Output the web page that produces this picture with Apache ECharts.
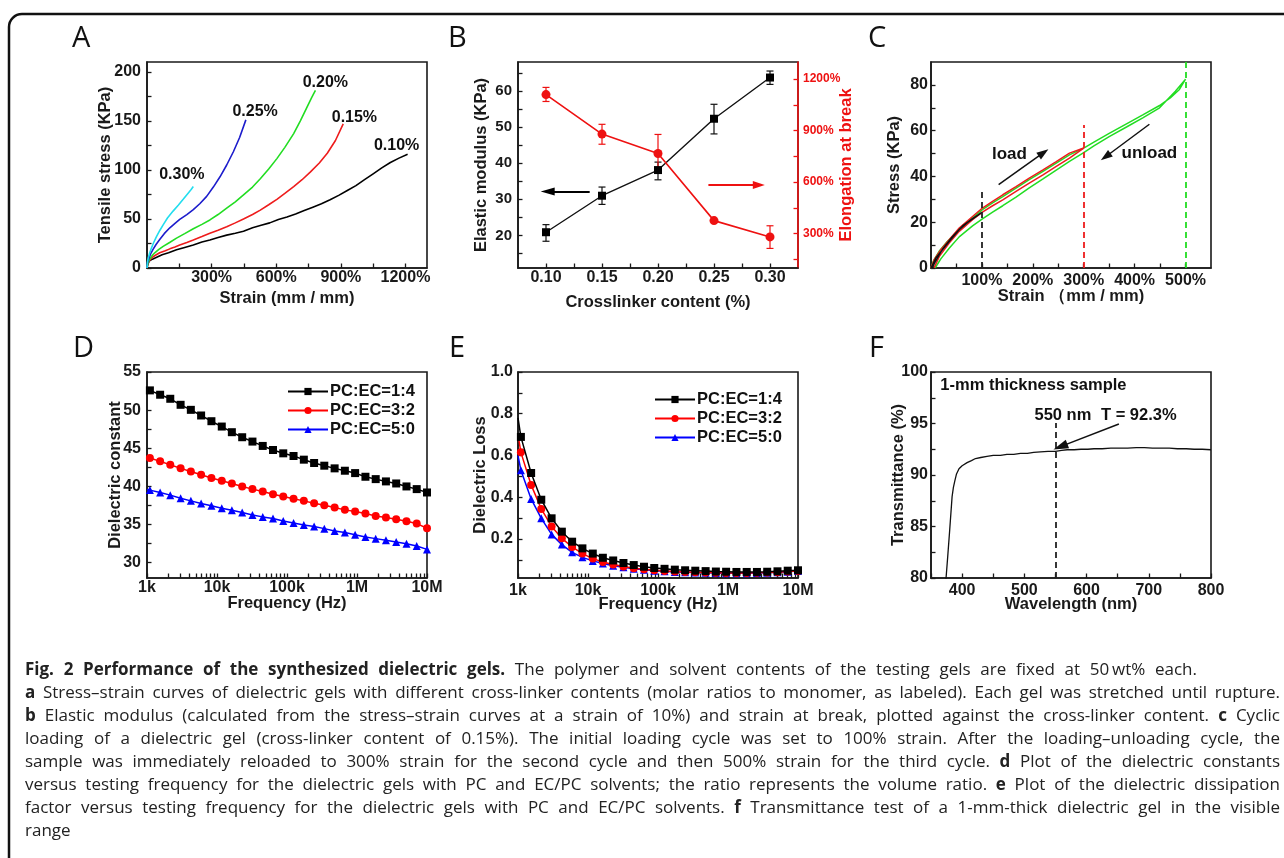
<!DOCTYPE html>
<html>
<head>
<meta charset="utf-8">
<script src="https://cdn.jsdelivr.net/npm/echarts@6/dist/echarts.min.js"></script>
<style>
  html, body { margin: 0; padding: 0; background: #ffffff; }
  #chart { position: absolute; left: 0; top: 0; width: 1284px; height: 858px; }
  #caption { position: absolute; left: 25px; top: 657px; width: 1255px;
             font-family: "Open Sans", "Noto Sans", sans-serif; font-size: 17px;
             line-height: 23px; color: #222; }
  #caption div { text-align: justify; text-align-last: justify; white-space: normal; }
  #caption div.head { width: 1172px; }
  #caption div.end { text-align-last: left; }
</style>
</head>
<body>
<div id="chart"></div>
<div id="caption">
  <div class="head"><b>Fig. 2 Performance of the synthesized dielectric gels.</b> The polymer and solvent contents of the testing gels are fixed at 50&#8201;wt% each.</div>
  <div><b>a</b> Stress–strain curves of dielectric gels with different cross-linker contents (molar ratios to monomer, as labeled). Each gel was stretched until rupture.</div>
  <div><b>b</b> Elastic modulus (calculated from the stress–strain curves at a strain of 10%) and strain at break, plotted against the cross-linker content. <b>c</b> Cyclic</div>
  <div>loading of a dielectric gel (cross-linker content of 0.15%). The initial loading cycle was set to 100% strain. After the loading–unloading cycle, the</div>
  <div>sample was immediately reloaded to 300% strain for the second cycle and then 500% strain for the third cycle. <b>d</b> Plot of the dielectric constants</div>
  <div>versus testing frequency for the dielectric gels with PC and EC/PC solvents; the ratio represents the volume ratio. <b>e</b> Plot of the dielectric dissipation</div>
  <div>factor versus testing frequency for the dielectric gels with PC and EC/PC solvents. <b>f</b> Transmittance test of a 1-mm-thick dielectric gel in the visible</div>
  <div class="end">range</div>
</div>
<script>
// ---------------- Panel A: tensile curves [strain %, stress KPa] ----------------
const tensile010 = [[0,0],[4,4],[10,7],[25,9],[45,11],[70,13.5],[100,15.5],[137,18.5],[175,21],[215,23.5],[255,26.5],[292,28.5],[330,31],[370,33.5],[410,35.5],[448,37.5],[490,41],[530,43.5],[570,46],[610,49.5],[650,52],[690,55],[730,58.5],[770,62],[810,65.5],[850,69.5],[890,74],[930,79],[970,84],[1010,90],[1050,96],[1090,102],[1130,107.5],[1170,112],[1210,116]];
const tensile015 = [[0,0],[3,4],[9,7],[20,10],[35,12.5],[59,15.5],[85,17.5],[106,19.5],[130,21.5],[152,23.5],[185,26],[215,28.5],[255,32],[292,35.5],[330,38.5],[370,42],[410,46],[448,50],[490,54.5],[526,59],[565,64.5],[603,70],[640,76],[681,83],[720,90],[759,98],[800,107],[837,117],[875,130],[911,147]];
const tensile020 = [[0,0],[4,5],[12,9],[25,13],[36,15.5],[55,19],[75,22],[105,26],[137,30.5],[175,35],[215,40],[255,44.5],[292,49],[330,54.5],[370,61],[410,67.5],[448,74.5],[490,82.5],[526,91],[565,101],[603,111.5],[640,123],[681,137],[712,150],[743,164],[765,174],[782,181]];
const tensile025 = [[0,0],[3,6],[9,10],[18,15],[28,19],[42,24],[59,29],[80,35],[106,41],[130,45.5],[152,49.5],[185,54.5],[215,59.5],[245,65.5],[277,73],[308,82.5],[339,93],[370,105],[401,118.5],[430,133],[459,151]];
const tensile030 = [[0,0],[2,6],[6,10.5],[12,15],[20,20],[30,25.5],[44,32],[60,38.5],[75,44],[95,51],[121,58],[145,64],[168,70],[190,76],[205,80],[215,83]];

// ---------------- Panel B: modulus and elongation vs crosslinker ----------------
const crosslinker   = [0.10, 0.15, 0.20, 0.25, 0.30];
const modulus       = [20.9, 31.0, 38.1, 52.3, 63.7];
const modulusLow    = [18.4, 28.6, 35.4, 48.1, 61.8];
const modulusHigh   = [23.0, 33.4, 40.3, 56.3, 65.5];
const elongation    = [1110, 880, 767, 376, 281];
const elongLow      = [1070, 821, 673, 370, 214];
const elongHigh     = [1152, 937, 878, 382, 346];

// ---------------- Panel C: cyclic loading loops [strain %, stress KPa] ----------------
const cycle100 = [[0,0],[9.5,4.4],[22.6,8],[39,12.4],[55.4,16.7],[75,20.4],[100,24.3],[81.6,21.6],[62,18.4],[42.3,13.8],[22.6,8.2],[6.2,1.8],[3,0]];
const cycle300 = [[0,0],[6.2,3.6],[19.3,8],[35.7,12.4],[55.4,17.5],[81.6,22.5],[101,26.2],[121,29.1],[141,32],[167,35.6],[193,39.3],[220,42.9],[246,46.5],[272,50.2],[300,52.4],
                  [300,51.6],[272,48],[246,44.4],[220,40.7],[193,37.1],[167,33.5],[141,29.8],[121,27.2],[101,24.4],[81.6,21.1],[55.4,16],[35.7,10.9],[16.4,5.1],[6,0]];
const cycle500 = [[0,0],[4.5,3],[16,7.3],[32,11.6],[55,16.7],[80,21.5],[101,25.5],[121,28.5],[141,31.2],[167,34.9],[193,38.6],[220,42.2],[246,45.8],[272,49.4],[300,52.4],[320,55],[350,58.8],[384,63],[416,66.9],[449,71],[470,74.3],[488,78],[500,82.5],
                  [500,81.8],[480,77.2],[449,70],[416,65.6],[384,61.6],[350,57.4],[320,53.4],[300,50.4],[272,46.6],[246,42.8],[220,38.9],[193,35],[167,31],[141,27.2],[121,24.4],[101,21.5],[81.6,18.4],[55.4,13.6],[35.7,8.6],[19.3,4],[8,0]];

// ---------------- Panels D/E: dielectric spectra ----------------
const freqStart   = 1000;
const freqMarkers = [1100,1540,2150,3020,4230,5930,8320,11700,16300,22900,32100,45000,63100,88400,124000,174000,244000,341000,479000,671000,940000,1320000,1850000,2590000,3630000,5090000,7130000,10000000];
const seriesNames = ['PC:EC=1:4', 'PC:EC=3:2', 'PC:EC=5:0'];
const constStart  = [52.75, 43.85, 39.6];
const const14 = [52.59,52.02,51.49,50.70,50.04,49.30,48.55,47.85,47.11,46.45,45.88,45.31,44.78,44.34,43.99,43.51,43.07,42.72,42.37,42.06,41.75,41.27,40.96,40.66,40.39,40.00,39.65,39.21];
const const32 = [43.73,43.29,42.85,42.37,41.97,41.54,41.10,40.75,40.39,40.00,39.65,39.34,38.99,38.68,38.38,38.11,37.81,37.54,37.24,36.93,36.71,36.45,36.14,35.92,35.70,35.44,35.13,34.52];
const const50 = [39.52,39.21,38.86,38.46,38.11,37.76,37.46,37.15,36.89,36.58,36.27,36.01,35.79,35.48,35.22,34.96,34.74,34.47,34.17,33.95,33.68,33.38,33.16,32.94,32.72,32.50,32.19,31.75];
const lossStart = [0.78, 0.70, 0.60];
const loss14 = [0.689,0.516,0.388,0.299,0.235,0.187,0.155,0.130,0.110,0.097,0.085,0.075,0.067,0.061,0.057,0.053,0.050,0.048,0.046,0.044,0.043,0.042,0.042,0.042,0.043,0.045,0.048,0.050];
const loss32 = [0.615,0.459,0.344,0.260,0.203,0.162,0.130,0.106,0.090,0.078,0.068,0.060,0.055,0.050,0.047,0.044,0.042,0.040,0.039,0.038,0.037,0.037,0.037,0.038,0.039,0.041,0.044,0.047];
const loss50 = [0.529,0.392,0.299,0.222,0.173,0.136,0.112,0.095,0.082,0.072,0.064,0.057,0.052,0.048,0.045,0.042,0.040,0.039,0.038,0.037,0.036,0.036,0.036,0.037,0.038,0.040,0.043,0.046];

// ---------------- Panel F: transmittance [nm, %] ----------------
const transmittance = [[372,78],[374.2,80],[376.9,82.1],[380.1,84.7],[383.9,87.9],[386,88.8],[388.2,89.4],[391,90.1],[395,90.6],[400,90.9],[408,91.2],[415,91.4],[421.5,91.6],[430,91.7],[440,91.8],[450,91.9],[461.7,91.9],[472,92.0],[483,92.0],[494,92.1],[505,92.1],[515,92.2],[526,92.25],[538,92.3],[550,92.3],[560,92.4],[569,92.45],[580,92.45],[591,92.5],[602,92.5],[612,92.55],[625,92.55],[639,92.6],[652,92.6],[666,92.6],[680,92.65],[693,92.65],[706,92.6],[720,92.6],[733,92.6],[746,92.55],[760,92.55],[773,92.5],[786,92.5],[800,92.45]];
const markWavelength = 550;
const markT = 92.3;

// ---------------- tick values ----------------
const ticksA_x = [150,300,450,600,750,900,1050,1200];
const labelsA_x = [300,600,900,1200];
const ticksA_y = [0,25,50,75,100,125,150,175,200];
const labelsA_y = [0,50,100,150,200];
const ticksB_x = [0.1,0.125,0.15,0.175,0.2,0.225,0.25,0.275,0.3];
const ticksB_y = [15,20,25,30,35,40,45,50,55,60,65];
const labelsB_y = [20,30,40,50,60];
const ticksB_y2 = [150,300,450,600,750,900,1050,1200];
const labelsB_y2 = [300,600,900,1200];
const ticksC_x = [50,100,150,200,250,300,350,400,450,500];
const labelsC_x = [100,200,300,400,500];
const ticksC_y = [0,10,20,30,40,50,60,70,80];
const labelsC_y = [0,20,40,60,80];
const labelsLogX = [1e3,1e4,1e5,1e6,1e7];
const ticksLogX = [1e3,2e3,3e3,4e3,5e3,6e3,7e3,8e3,9e3,1e4,2e4,3e4,4e4,5e4,6e4,7e4,8e4,9e4,1e5,2e5,3e5,4e5,5e5,6e5,7e5,8e5,9e5,1e6,2e6,3e6,4e6,5e6,6e6,7e6,8e6,9e6,1e7];
const ticksD_y = [30,32.5,35,37.5,40,42.5,45,47.5,50,52.5,55];
const labelsD_y = [30,35,40,45,50,55];
const ticksE_y = [0.1,0.2,0.3,0.4,0.5,0.6,0.7,0.8,0.9,1.0];
const labelsE_y = [0.2,0.4,0.6,0.8,1.0];
const ticksF_x = [350,400,450,500,550,600,650,700,750,800];
const labelsF_x = [400,500,600,700,800];
const ticksF_y = [80,82.5,85,87.5,90,92.5,95,97.5,100];
const labelsF_y = [80,85,90,95,100];

const FONT = '"Liberation Sans", Arial, Helvetica, sans-serif';
const INK = '#1a1a1a';
const RED = '#ee1111';

const pct = v => v + '%';
const freqFmt = v => ({1000:'1k',10000:'10k',100000:'100k',1000000:'1M',10000000:'10M'})[Math.round(v)] || '';

function mkAxis(o) {
  const c = o.color || INK;
  return {
    type: o.type || 'value', gridIndex: o.grid, min: o.min, max: o.max, position: o.position,
    logBase: 10, scale: true,
    name: o.name, nameLocation: 'middle', nameGap: o.nameGap, nameRotate: o.rotate,
    nameMoveOverlap: false,
    nameTextStyle: { fontFamily: FONT, fontWeight: 'bold', fontSize: 16.5, color: c },
    axisLine: { show: true, onZero: false, lineStyle: { color: c, width: 1.6 } },
    axisTick: { show: true, inside: true, length: 4.5, customValues: o.ticks, lineStyle: { color: c, width: 1.3 } },
    axisLabel: { show: true, customValues: o.labels, formatter: o.fmt, margin: o.margin,
                 fontFamily: FONT, fontWeight: 'bold', fontSize: o.labelSize || 16, color: c,
                 hideOverlap: false, showMinLabel: true, showMaxLabel: true },
    splitLine: { show: false }, minorTick: { show: false }, minorSplitLine: { show: false }
  };
}

function mkGrid(left, top) {
  return { left, top, width: 280, height: 206, show: true, borderColor: INK, borderWidth: 1.6,
           containLabel: false, outerBoundsMode: 'none' };
}

function annotation(coord, text, size) {
  return { coord, name: text, symbol: 'circle', symbolSize: 1, itemStyle: { color: 'rgba(0,0,0,0)' },
           label: { show: true, position: 'inside', formatter: '{b}', fontFamily: FONT, fontWeight: 'bold',
                    fontSize: size || 16, color: '#111' } };
}

function arrow(from, to, color, width, head) {
  return [
    { coord: from, symbol: 'none', lineStyle: { color, width, type: 'solid' } },
    { coord: to, symbol: 'triangle', symbolSize: head }
  ];
}

function dashed(from, to, color) {
  return [
    { coord: from, symbol: 'none', lineStyle: { color, width: 1.8, type: [6, 4] } },
    { coord: to, symbol: 'none' }
  ];
}

function errorBars(color) {
  return function (params, api) {
    const x = api.value(0);
    const lo = api.coord([x, api.value(1)]);
    const hi = api.coord([x, api.value(2)]);
    const w = 3.5;
    const st = { stroke: color, lineWidth: 1.2 };
    return { type: 'group', children: [
      { type: 'line', shape: { x1: hi[0], y1: hi[1], x2: lo[0], y2: lo[1] }, style: st },
      { type: 'line', shape: { x1: hi[0] - w, y1: hi[1], x2: hi[0] + w, y2: hi[1] }, style: st },
      { type: 'line', shape: { x1: lo[0] - w, y1: lo[1], x2: lo[0] + w, y2: lo[1] }, style: st }
    ]};
  };
}

function dielectric(idx, startVal, vals, symbol, size, color, xi, yi) {
  const data = [{ value: [freqStart, startVal], symbol: 'none' }].concat(freqMarkers.map((f, i) => [f, vals[i]]));
  return { type: 'line', name: seriesNames[idx], xAxisIndex: xi, yAxisIndex: yi, data,
           symbol, symbolSize: size, showSymbol: true, showAllSymbol: true,
           itemStyle: { color }, lineStyle: { color, width: 1.5 }, z: 3 + (2 - idx) };
}

function tensile(name, data, color, spot) {
  return { type: 'line', name, xAxisIndex: 0, yAxisIndex: 0, data, symbol: 'none', showSymbol: false,
           lineStyle: { color, width: 1.6 }, itemStyle: { color },
           markPoint: { silent: true, animation: false, data: [annotation(spot, name, 16)] } };
}

const titleStyle = { fontFamily: '"Open Sans", "Noto Sans", sans-serif', fontSize: 29, fontWeight: 'normal', color: '#111' };
const letters = [['A',72,24],['B',448,24],['C',868,24],['D',73,334],['E',449,334],['F',869,334]];

const legendBase = {
  orient: 'vertical', itemWidth: 40, itemHeight: 9, itemGap: 2, selectedMode: false,
  padding: 0, data: seriesNames,
  textStyle: { fontFamily: FONT, fontWeight: 'bold', fontSize: 16.5, color: '#111', padding: [0, 0, 0, -3] }
};

const option = {
  animation: false,
  backgroundColor: '#ffffff',
  title: letters.map(l => ({ text: l[0], left: l[1], top: l[2], padding: 0, textStyle: titleStyle })),
  graphic: [{ type: 'rect', shape: { x: 9, y: 14, width: 1400, height: 1000, r: 13 },
              style: { fill: 'none', stroke: '#111', lineWidth: 2.5 }, silent: true, z: 100 }],
  legend: [
    Object.assign({}, legendBase, { left: 287, top: 383 }),
    Object.assign({}, legendBase, { left: 654, top: 391 })
  ],
  grid: [mkGrid(147, 62), mkGrid(518, 62), mkGrid(931, 62), mkGrid(147, 372), mkGrid(518, 372), mkGrid(931, 372)],
  xAxis: [
    mkAxis({ grid: 0, min: 0, max: 1300, ticks: ticksA_x, labels: labelsA_x, fmt: pct, margin: 2, name: 'Strain (mm / mm)', nameGap: 22 }),
    mkAxis({ grid: 1, min: 0.075, max: 0.325, ticks: ticksB_x, labels: crosslinker, fmt: v => v.toFixed(2), margin: 2, name: 'Crosslinker content (%)', nameGap: 26 }),
    mkAxis({ grid: 2, min: 0, max: 550, ticks: ticksC_x, labels: labelsC_x, fmt: pct, margin: 5, name: 'Strain （mm / mm)', nameGap: 20 }),
    mkAxis({ grid: 3, type: 'log', min: 1e3, max: 1e7, ticks: ticksLogX, labels: labelsLogX, fmt: freqFmt, margin: 2, name: 'Frequency (Hz)', nameGap: 17 }),
    mkAxis({ grid: 4, type: 'log', min: 1e3, max: 1e7, ticks: ticksLogX, labels: labelsLogX, fmt: freqFmt, margin: 5, name: 'Frequency (Hz)', nameGap: 18 }),
    mkAxis({ grid: 5, min: 350, max: 800, ticks: ticksF_x, labels: labelsF_x, margin: 5, name: 'Wavelength (nm)', nameGap: 18 })
  ],
  yAxis: [
    mkAxis({ grid: 0, min: 0, max: 210, ticks: ticksA_y, labels: labelsA_y, margin: 6, name: 'Tensile stress (KPa)', nameGap: 33, rotate: 90 }),
    mkAxis({ grid: 1, min: 11, max: 68, ticks: ticksB_y, labels: labelsB_y, margin: 6, labelSize: 15, name: 'Elastic modulus (KPa)', nameGap: 28, rotate: 90 }),
    mkAxis({ grid: 1, min: 100, max: 1300, position: 'right', ticks: ticksB_y2, labels: labelsB_y2, fmt: pct, margin: 5, labelSize: 12, name: 'Elongation at break', nameGap: 40, rotate: 90, color: RED }),
    mkAxis({ grid: 2, min: 0, max: 90, ticks: ticksC_y, labels: labelsC_y, margin: 3, name: 'Stress (KPa)', nameGap: 28, rotate: 90 }),
    mkAxis({ grid: 3, min: 28, max: 55, ticks: ticksD_y, labels: labelsD_y, margin: 6, name: 'Dielectric constant', nameGap: 23, rotate: 90 }),
    mkAxis({ grid: 4, min: 0.013, max: 1.0, ticks: ticksE_y, labels: labelsE_y, fmt: v => v.toFixed(1), margin: 5, name: 'Dielectric Loss', nameGap: 29, rotate: 90 }),
    mkAxis({ grid: 5, min: 80, max: 100, ticks: ticksF_y, labels: labelsF_y, margin: 3, name: 'Transmittance (%)', nameGap: 24, rotate: 90 })
  ],
  series: [
    // A
    tensile('0.10%', tensile010, '#000000', [1159, 124.4]),
    tensile('0.15%', tensile015, '#ee1c1c', [963, 153.8]),
    tensile('0.20%', tensile020, '#22dd22', [828, 189.5]),
    tensile('0.25%', tensile025, '#1c1ccc', [502, 159]),
    tensile('0.30%', tensile030, '#22ddee', [162, 95]),

    // B
    { type: 'custom', xAxisIndex: 1, yAxisIndex: 1, renderItem: errorBars('#111'),
      encode: { x: 0, y: [1, 2] }, data: crosslinker.map((x, i) => [x, modulusLow[i], modulusHigh[i]]), z: 2 },
    { type: 'custom', xAxisIndex: 1, yAxisIndex: 2, renderItem: errorBars(RED),
      encode: { x: 0, y: [1, 2] }, data: crosslinker.map((x, i) => [x, elongLow[i], elongHigh[i]]), z: 2 },
    { type: 'line', name: 'modulus', xAxisIndex: 1, yAxisIndex: 1, data: crosslinker.map((x, i) => [x, modulus[i]]),
      symbol: 'rect', symbolSize: 8, itemStyle: { color: '#000' }, lineStyle: { color: '#111', width: 1.4 }, z: 4,
      markLine: { silent: true, animation: false, label: { show: false }, data: [arrow([0.139, 32.2], [0.1015, 32.2], '#000', 2, [8, 14])] } },
    { type: 'line', name: 'elongation', xAxisIndex: 1, yAxisIndex: 2, data: crosslinker.map((x, i) => [x, elongation[i]]),
      symbol: 'circle', symbolSize: 9, itemStyle: { color: RED }, lineStyle: { color: RED, width: 1.6 }, z: 4,
      markLine: { silent: true, animation: false, label: { show: false }, data: [arrow([0.245, 583], [0.290, 583], RED, 2, [8, 12])] } },

    // C
    { type: 'line', name: 'cycle 500%', xAxisIndex: 2, yAxisIndex: 3, data: cycle500, symbol: 'none',
      lineStyle: { color: '#22dd22', width: 1.5 },
      markLine: { silent: true, animation: false, label: { show: false }, data: [dashed([500, 0], [500, 90], '#22dd22')] } },
    { type: 'line', name: 'cycle 300%', xAxisIndex: 2, yAxisIndex: 3, data: cycle300, symbol: 'none',
      lineStyle: { color: '#ee1c1c', width: 1.5 },
      markLine: { silent: true, animation: false, label: { show: false }, data: [dashed([300, 0], [300, 62.5], '#ee1c1c')] } },
    { type: 'line', name: 'cycle 100%', xAxisIndex: 2, yAxisIndex: 3, data: cycle100, symbol: 'none',
      lineStyle: { color: '#111', width: 1.4 },
      markLine: { silent: true, animation: false, label: { show: false }, data: [
        dashed([100, 0], [100, 34.5], '#222'),
        arrow([132.8, 36.4], [221, 50.4], '#111', 1.5, [8, 12]),
        arrow([429, 62.8], [343, 48.6], '#111', 1.5, [8, 12])
      ] },
      markPoint: { silent: true, animation: false, data: [annotation([154, 49.5], 'load', 17), annotation([429, 50.2], 'unload', 17)] } },

    // D
    dielectric(0, constStart[0], const14, 'rect', 8, '#000000', 3, 4),
    dielectric(1, constStart[1], const32, 'circle', 8, '#ff0000', 3, 4),
    dielectric(2, constStart[2], const50, 'triangle', 8, '#0000ff', 3, 4),

    // E
    dielectric(0, lossStart[0], loss14, 'rect', 8, '#000000', 4, 5),
    dielectric(1, lossStart[1], loss32, 'circle', 8, '#ff0000', 4, 5),
    dielectric(2, lossStart[2], loss50, 'triangle', 8, '#0000ff', 4, 5),

    // F
    { type: 'line', name: 'transmittance', xAxisIndex: 5, yAxisIndex: 6, data: transmittance, symbol: 'none',
      lineStyle: { color: '#111', width: 1.3 },
      markLine: { silent: true, animation: false, label: { show: false }, data: [
        dashed([markWavelength, 80], [markWavelength, 95.05], '#222'),
        arrow([652, 94.95], [558, 92.75], '#111', 1.5, [9, 15])
      ] },
      markPoint: { silent: true, animation: false, data: [
        annotation([514.6, 98.7], '1-mm thickness sample', 16.5),
        annotation([562, 95.76], markWavelength + ' nm', 16.5),
        annotation([684, 95.76], 'T = ' + markT + '%', 16.5)
      ] } }
  ]
};

const chart = echarts.init(document.getElementById('chart'), null, { renderer: 'canvas' });
chart.setOption(option);
</script>
</body>
</html>
